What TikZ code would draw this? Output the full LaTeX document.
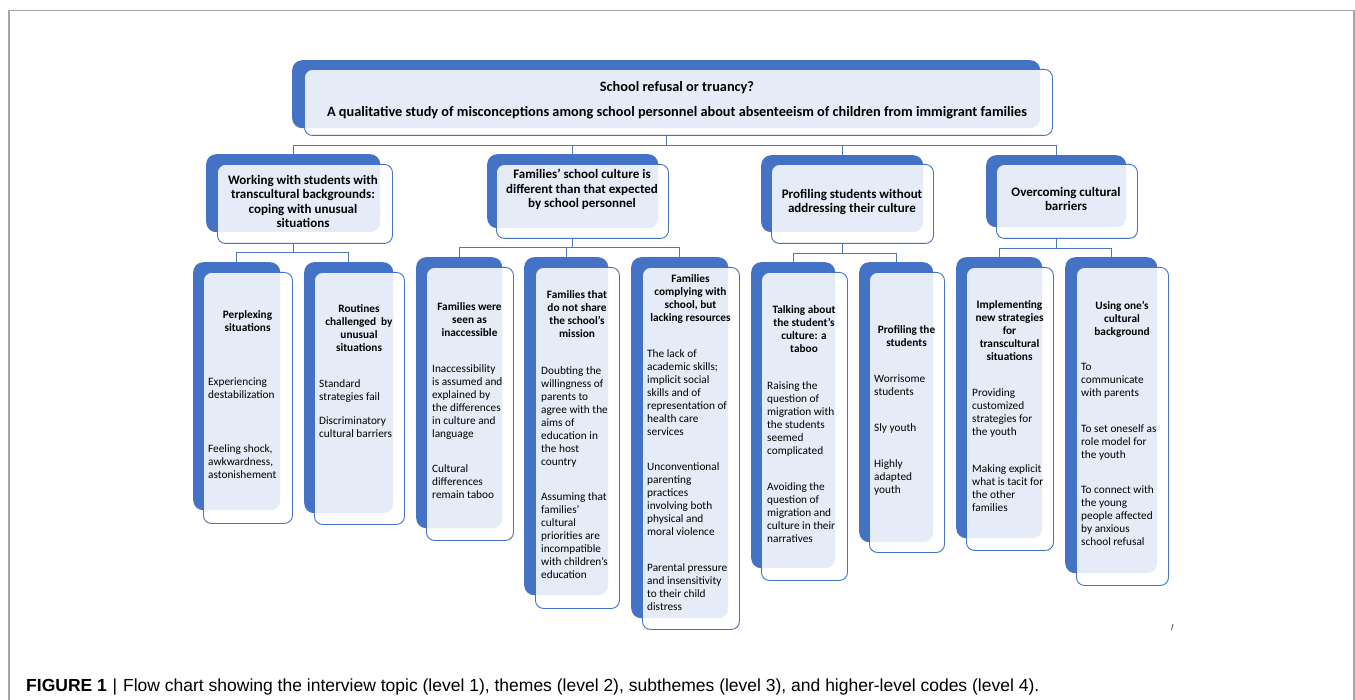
\documentclass[tikz,border=0pt]{standalone}
\usepackage{fontspec}
\setmainfont{Carlito}
\newfontfamily\capfont{Liberation Sans}
\usepackage{tikz}
\usetikzlibrary{positioning,backgrounds}
\definecolor{boxblue}{HTML}{4472C4}
\definecolor{linkblue}{HTML}{5276BA}
\definecolor{framegray}{HTML}{A6A6A6}
\tikzset{
  back/.style args={#1,#2}{ fill=boxblue, rounded corners=10pt, anchor=north west,
    inner sep=0pt, minimum width=#1pt, minimum height=#2pt }
}
\tikzset{
  front/.style args={#1,#2}{ draw=boxblue, line width=0.9pt, fill=white, fill opacity=0.87,
    rounded corners=8pt, anchor=north west, inner sep=0pt, minimum width=#1pt, minimum height=#2pt }
}
\tikzset{
  toptext/.style={ font=\bfseries\fontsize{14.3}{16}\selectfont, align=center, inner sep=0pt, anchor=north }
}
\tikzset{
  thtext/.style={ font=\bfseries\fontsize{13}{14.5}\selectfont, align=center, inner sep=0pt, anchor=north }
}
\tikzset{
  head/.style={ font=\bfseries\fontsize{11.3}{13}\selectfont, align=center, inner sep=0pt, anchor=north }
}
\tikzset{
  codes/.style={ font=\fontsize{11.3}{13}\selectfont, align=left, inner sep=0pt, anchor=north west }
}
\tikzset{
  link/.style={ draw=linkblue, line width=0.9pt }
}

\begin{document}
\begin{tikzpicture}[x=1pt, y=-1pt]
  \useasboundingbox (0,0) rectangle (1355,700);
  \draw[framegray, line width=1.3pt] (9,10.5) rectangle (1354,730);

  % level 1
  \node[back={748,68}] (topb) at (292,60) {};
  \node[front={748,66}] (top) at (304,69) {};
  \node[toptext] (topt) at (677,81) {School refusal or truancy?\\[9pt]
    A qualitative study of misconceptions among school personnel about absenteeism of children from immigrant families};

  % level 2
  \node[back={174,78}] (thb1) at (206,154) {};
  \node[front={175,79}] (th1) at (217,164) {};
  \node[back={171,74}] (thb2) at (487,154) {};
  \node[front={172,74}] (th2) at (496,164) {};
  \node[back={162,77}] (thb3) at (761,155) {};
  \node[front={162,79}] (th3) at (771,164) {};
  \node[back={140,72}] (thb4) at (986,155) {};
  \node[front={141,74}] (th4) at (996,164) {};

  \node[thtext] (th1t) at (303,175) {Working with students with\\transcultural backgrounds:\\coping with unusual\\situations};
  \node[thtext] (th2t) at (582,169) {Families' school culture is\\different than that expected\\by school personnel};
  \node[thtext] (th3t) at (852,189) {Profiling students without\\addressing their culture};
  \node[thtext] (th4t) at (1066,187) {Overcoming cultural\\barriers};

  % level 3
  \node[back={87,248}] (bk1) at (193,262) {};
  \node[front={89,251}] (sub1) at (203,272) {};
  \node[back={89,251}] (bk2) at (304,262) {};
  \node[front={90,252}] (sub2) at (314,272) {};
  \node[back={86,271}] (bk3) at (416,257) {};
  \node[front={87,273}] (sub3) at (426,267) {};
  \node[back={84,338}] (bk4) at (524,257) {};
  \node[front={84,341}] (sub4) at (535,267) {};
  \node[back={97,361}] (bk5) at (631,257) {};
  \node[front={97,362}] (sub5) at (642,267) {};
  \node[back={84,306}] (bk6) at (751,262) {};
  \node[front={86,308}] (sub6) at (761,272) {};
  \node[back={74,280}] (bk7) at (859,262) {};
  \node[front={75,280}] (sub7) at (869,272) {};
  \node[back={86,281}] (bk8) at (956,257) {};
  \node[front={87,283}] (sub8) at (966,267) {};
  \node[back={92,316}] (bk9) at (1065,257) {};
  \node[front={92,318}] (sub9) at (1076,267) {};

  \node[head] (sub1h) at (247.5,310.5) {Perplexing\\situations};
  \node[codes] (sub1c) at (208,377.5) {Experiencing\\destabilization\\[41pt]Feeling shock,\\awkwardness,\\astonishement};

  \node[head] (sub2h) at (359,304.5) {Routines\\challenged~ by\\unusual\\situations};
  \node[codes] (sub2c) at (319,379.5) {Standard\\strategies fail\\[11pt]Discriminatory\\cultural barriers};

  \node[head] (sub3h) at (469.5,302.5) {Families were\\seen as\\inaccessible};
  \node[codes] (sub3c) at (432,364.5) {Inaccessibility\\is assumed and\\explained by\\the differences\\in culture and\\language\\[22pt]Cultural\\differences\\remain taboo};

  \node[head] (sub4h) at (577,290.5) {Families that\\do not share\\the school's\\mission};
  \node[codes] (sub4c) at (541,366.5) {Doubting the\\willingness of\\parents to\\agree with the\\aims of\\education in\\the host\\country\\[22pt]Assuming that\\families'\\cultural\\priorities are\\incompatible\\with children's\\education};

  \node[head] (sub5h) at (690.5,274.5) {Families\\complying with\\school, but\\lacking resources};
  \node[codes] (sub5c) at (647,349.5) {The lack of\\academic skills;\\implicit social\\skills and of\\representation of\\health care\\services\\[22pt]Unconventional\\parenting\\practices\\involving both\\physical and\\moral violence\\[23pt]Parental pressure\\and insensitivity\\to their child\\distress};

  \node[head] (sub6h) at (804,305.5) {Talking about\\the student's\\culture: a\\taboo};
  \node[codes] (sub6c) at (767,381.5) {Raising the\\question of\\migration with\\the students\\seemed\\complicated\\[23pt]Avoiding the\\question of\\migration and\\culture in their\\narratives};

  \node[head] (sub7h) at (906.5,325.5) {Profiling the\\students};
  \node[codes] (sub7c) at (874,374.5) {Worrisome\\students\\[23pt]Sly youth\\[23pt]Highly\\adapted\\youth};

  \node[head] (sub8h) at (1009.5,300.5) {Implementing\\new strategies\\for\\transcultural\\situations};
  \node[codes] (sub8c) at (972,388.5) {Providing\\customized\\strategies for\\the youth\\[24pt]Making explicit\\what is tacit for\\the other\\families};

  \node[head] (sub9h) at (1122,301.5) {Using one's\\cultural\\background};
  \node[codes] (sub9c) at (1081,363.5) {To\\communicate\\with parents\\[23pt]To set oneself as\\role model for\\the youth\\[22pt]To connect with\\the young\\people affected\\by anxious\\school refusal};

  % tree lines
  \coordinate (bus0) at (0,145);
  \coordinate (bus1) at (0,252);
  \coordinate (bus2) at (0,247);
  \coordinate (bus3) at (0,253);
  \coordinate (bus4) at (0,248);
  \begin{scope}[on background layer]
    \foreach \i in {1,...,4}
      \draw[link] (topb.south |- top.south) |- (thb\i.north |- bus0) -- (thb\i.north);
    \foreach \i in {1,2}
      \draw[link] (thb1.south |- th1.south) |- (bk\i.north |- bus1) -- (bk\i.north);
    \foreach \i in {3,4,5}
      \draw[link] (thb2.south |- th2.south) |- (bk\i.north |- bus2) -- (bk\i.north);
    \foreach \i in {6,7}
      \draw[link] (thb3.south |- th3.south) |- (bk\i.north |- bus3) -- (bk\i.north);
    \foreach \i in {8,9}
      \draw[link] (thb4.south |- th4.south) |- (bk\i.north |- bus4) -- (bk\i.north);
  \end{scope}

  \draw[black!70, line width=0.8pt] (1171.5,630) -- (1173,624);

  \node[font=\capfont\fontsize{17.5}{20}\selectfont, anchor=base west, inner sep=0pt] (cap) at (26,691)
    {\textbf{FIGURE 1}\,\,|\,\,Flow chart showing the interview topic (level 1), themes (level 2), subthemes (level 3), and higher-level codes (level 4).};
\end{tikzpicture}
\end{document}
